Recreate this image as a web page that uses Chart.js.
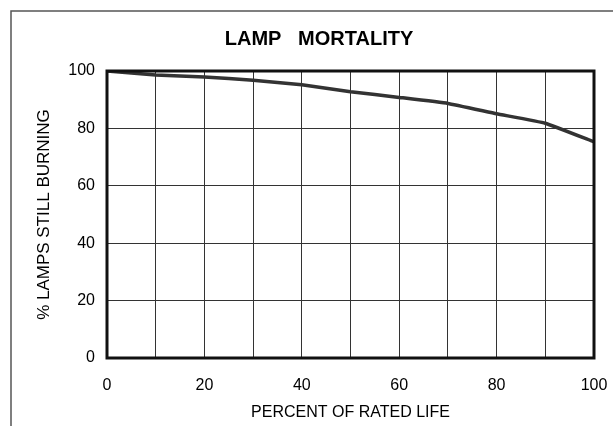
<!DOCTYPE html>
<html>
<head>
<meta charset="utf-8">
<script src="https://cdn.jsdelivr.net/npm/chart.js@4"></script>
<style>
  html, body { margin: 0; padding: 0; background: #fff; }
  #wrap { width: 613px; height: 426px; }
</style>
</head>
<body>
<div id="wrap"><canvas id="lampChart"></canvas></div>
<script>
// data
const lifePct = [0, 10, 20, 30, 40, 50, 60, 70, 80, 90, 100];
const burning = [100, 98.6, 97.9, 96.8, 95.2, 92.8, 90.8, 88.7, 85.1, 81.8, 75.3];
const xLabels = ['0', '20', '40', '60', '80', '100'];

const FONT = '"Liberation Sans", Arial, sans-serif';

// outer frame + heavy plot border
const framePlugin = {
    id: 'frame',
    beforeDraw(chart) {
        const ctx = chart.ctx;
        ctx.save();
        ctx.strokeStyle = '#555';
        ctx.lineWidth = 1.5;
        ctx.strokeRect(11, 11, 700, 500);
        ctx.restore();
    },
    afterDraw(chart) {
        const a = chart.chartArea;
        const ctx = chart.ctx;
        ctx.save();
        ctx.strokeStyle = '#111';
        ctx.lineWidth = 3;
        ctx.strokeRect(a.left, a.top, a.right - a.left, a.bottom - a.top);
        ctx.restore();
    }
};

const ctx = document.getElementById('lampChart').getContext('2d');

new Chart(ctx, {
    type: 'line',
    data: {
        datasets: [{
            data: lifePct.map((x, i) => ({ x: x, y: burning[i] })),
            borderColor: '#333',
            borderWidth: 3.5,
            pointRadius: 0,
            tension: 0.1,
            fill: false
        }]
    },
    options: {
        responsive: true,
        maintainAspectRatio: false,
        animation: false,
        // left padding shifts the title centre to match the reference
        layout: { padding: { left: 44, right: 19, top: 0, bottom: 0 } },
        plugins: {
            legend: { display: false },
            tooltip: { enabled: false },
            title: {
                display: true,
                text: 'LAMP   MORTALITY',
                color: '#000',
                font: { family: FONT, size: 20, weight: 'bold' },
                padding: { top: 27, bottom: 20 }
            }
        },
        scales: {
            x: {
                type: 'linear',
                min: 0,
                max: 100,
                afterFit: s => {
                    s.height = 68;
                    s.paddingLeft = 0;
                    s.paddingRight = 0;
                },
                grid: { color: '#333', lineWidth: 1, drawTicks: false },
                border: { display: false },
                ticks: {
                    stepSize: 10,
                    padding: 18,
                    color: '#000',
                    font: { family: FONT, size: 16 },
                    maxRotation: 0,
                    callback: v => (v % 20 === 0 ? xLabels[v / 20] : '')
                },
                title: {
                    display: true,
                    text: 'PERCENT OF RATED LIFE',
                    color: '#000',
                    font: { family: FONT, size: 16 },
                    padding: { top: 0, bottom: 4 }
                }
            },
            y: {
                min: 0,
                max: 100,
                afterFit: s => { s.width = 63; },
                grid: { color: '#333', lineWidth: 1, drawTicks: false },
                border: { display: false },
                ticks: {
                    stepSize: 20,
                    padding: 12,
                    color: '#000',
                    font: { family: FONT, size: 16 }
                },
                title: {
                    display: true,
                    text: '% LAMPS STILL BURNING',
                    color: '#000',
                    font: { family: FONT, size: 17 },
                    padding: { top: -10, bottom: 0 }
                }
            }
        }
    },
    plugins: [framePlugin]
});
</script>
</body>
</html>
